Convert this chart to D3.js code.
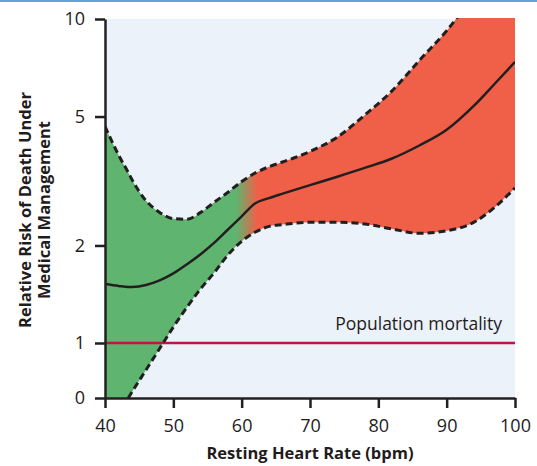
<!DOCTYPE html>
<html>
<head>
<meta charset="utf-8">
<script src="https://cdn.jsdelivr.net/npm/d3@7"></script>
<style>
  body { margin: 0; background: #fff; }
  svg { display: block; }
  text { font-family: "Open Sans", sans-serif; fill: #1f1c1d; }
</style>
</head>
<body>
<svg id="chart" width="537" height="466"></svg>
<script>
// heart rate grid (bpm) and the three curves
const heartRate = [40, 42, 43.4, 44, 46, 48, 50, 52, 54, 56, 58, 60, 62, 64, 66, 70, 74, 78, 82, 86, 90, 94, 97, 100];
const riskMid   = [1.52, 1.50, 1.49, 1.49, 1.51, 1.56, 1.64, 1.75, 1.88, 2.04, 2.24, 2.46, 2.70, 2.80, 2.89, 3.07, 3.26, 3.47, 3.71, 4.07, 4.55, 5.40, 6.30, 7.37];
const riskUpper = [4.66, 3.80, 3.36, 3.18, 2.75, 2.53, 2.42, 2.41, 2.53, 2.72, 2.92, 3.15, 3.35, 3.50, 3.62, 3.90, 4.32, 5.05, 6.00, 7.45, 9.20, 11.8, 13.8, 16.0];
const riskLower = [0, 0, 0, 0.12, 0.51, 0.90, 1.12, 1.29, 1.47, 1.65, 1.87, 2.06, 2.20, 2.29, 2.32, 2.36, 2.36, 2.33, 2.25, 2.18, 2.22, 2.36, 2.62, 3.01];

const xTicks = [40, 50, 60, 70, 80, 90, 100];
const yTicks = [0, 1, 2, 5, 10];
const populationRisk = 1;
// green -> red blend between these heart rates
const blendFrom = 59.2, blendTo = 62.3;

const data = heartRate.map((h, i) => ({hr: h, mid: riskMid[i], hi: riskUpper[i], lo: riskLower[i]}));

const svg = d3.select("#chart");

// top rule
svg.append("rect").attr("x", 0).attr("y", 0).attr("width", 537).attr("height", 2).attr("fill", "#5aa5da");

const plotL = 105, plotR = 515, plotT = 19, plotB = 398;

const x = d3.scaleLinear().domain([40, 100]).range([plotL, plotR]);

// log scale from 1 to 10, linear stretch between 0 and 1
function tr(v) { return v >= 1 ? Math.log10(v) : (v - 1) * (55 / 324); }
const yT = d3.scaleLinear().domain([tr(0), 1]).range([plotB, plotT]);
const y = v => yT(tr(v));

// plot background
svg.append("rect")
  .attr("x", plotL).attr("y", plotT)
  .attr("width", plotR - plotL).attr("height", plotB - plotT)
  .attr("fill", "#ebf2fa");

const defs = svg.append("defs");
defs.append("clipPath").attr("id", "plot")
  .append("rect").attr("x", plotL).attr("y", plotT - 1)
  .attr("width", plotR - plotL).attr("height", plotB - plotT + 1);

const grad = defs.append("linearGradient")
  .attr("id", "blend")
  .attr("gradientUnits", "userSpaceOnUse")
  .attr("x1", x(blendFrom)).attr("x2", x(blendTo))
  .attr("y1", 0).attr("y2", 0);
grad.append("stop").attr("offset", 0).attr("stop-color", "#5fb46f");
grad.append("stop").attr("offset", 1).attr("stop-color", "#f06048");

const g = svg.append("g").attr("clip-path", "url(#plot)");

const band = d3.area()
  .x(d => x(d.hr))
  .y0(d => y(d.lo))
  .y1(d => y(d.hi))
  .curve(d3.curveMonotoneX);

g.append("path").datum(data).attr("d", band).attr("fill", "url(#blend)");

// population mortality reference
g.append("line")
  .attr("x1", plotL).attr("x2", plotR)
  .attr("y1", y(populationRisk)).attr("y2", y(populationRisk))
  .attr("stroke", "#c0134a").attr("stroke-width", 2.5);

const lineOf = key => d3.line()
  .x(d => x(d.hr))
  .y(d => y(d[key]))
  .curve(d3.curveMonotoneX);

g.append("path").datum(data.filter(d => d.hr >= 43.4)).attr("d", lineOf("lo"))
  .attr("fill", "none").attr("stroke", "#231f20").attr("stroke-width", 3).attr("stroke-dasharray", "7,4");
g.append("path").datum(data).attr("d", lineOf("hi"))
  .attr("fill", "none").attr("stroke", "#231f20").attr("stroke-width", 3).attr("stroke-dasharray", "7,4");
g.append("path").datum(data).attr("d", lineOf("mid"))
  .attr("fill", "none").attr("stroke", "#231f20").attr("stroke-width", 2.5);

g.append("text")
  .attr("x", 502).attr("y", 330)
  .attr("text-anchor", "end")
  .style("font-size", "17.5px")
  .text("Population mortality");

// axes
const xAxis = d3.axisBottom(x).tickValues(xTicks).tickSize(10).tickSizeOuter(0).tickPadding(11);
const yAxis = d3.axisLeft(yT).tickValues(yTicks.map(tr)).tickFormat((d, i) => yTicks[i])
  .tickSize(10).tickSizeOuter(0).tickPadding(10);

const gx = svg.append("g").attr("transform", `translate(0,${plotB})`).call(xAxis);
const gy = svg.append("g").attr("transform", `translate(${plotL},0)`).call(yAxis);

[gx, gy].forEach(a => {
  a.select(".domain").attr("stroke", "#231f20").attr("stroke-width", 2.5);
  a.selectAll(".tick line").attr("stroke", "#231f20").attr("stroke-width", 2.5);
  a.selectAll(".tick text").attr("fill", "#1f1c1d").style("font-size", "18px").style("font-family", "'Open Sans', sans-serif");
});

svg.append("text")
  .attr("x", 310).attr("y", 459)
  .attr("text-anchor", "middle")
  .style("font-size", "16.5px").style("font-weight", "bold")
  .text("Resting Heart Rate (bpm)");

const yTitle = svg.append("text")
  .attr("transform", "rotate(-90)")
  .attr("text-anchor", "middle")
  .style("font-size", "16.5px").style("font-weight", "bold");
yTitle.append("tspan").attr("x", -210).attr("y", 31).text("Relative Risk of Death Under");
yTitle.append("tspan").attr("x", -210).attr("y", 50).text("Medical Management");
</script>
</body>
</html>
